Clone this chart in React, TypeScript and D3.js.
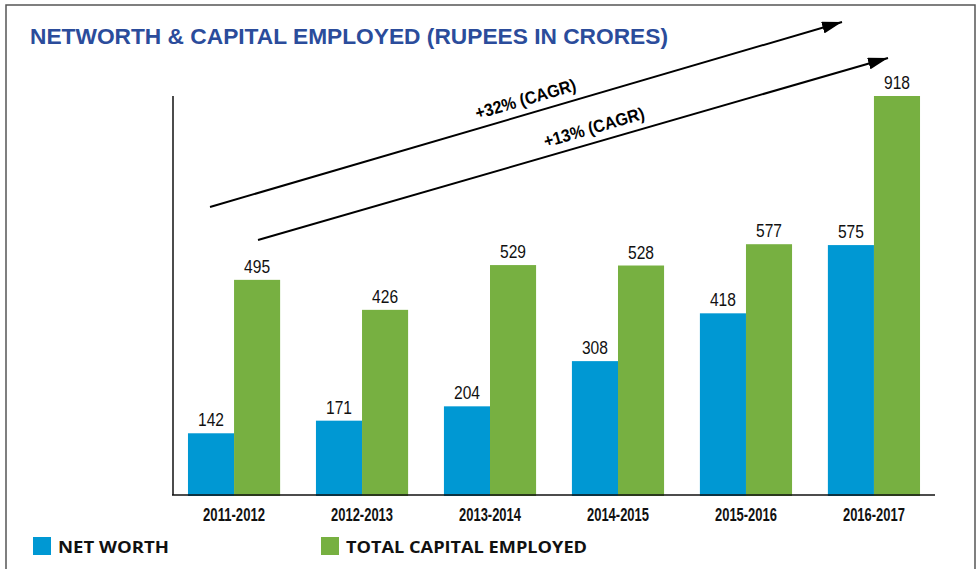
import React, { useRef, useEffect } from "react";
import * as d3 from "d3";

const years = ["2011-2012", "2012-2013", "2013-2014", "2014-2015", "2015-2016", "2016-2017"];
const netWorth = [142, 171, 204, 308, 418, 575];
const capitalEmployed = [495, 426, 529, 528, 577, 918];
const seriesNames = ["NET WORTH", "TOTAL CAPITAL EMPLOYED"];
const cagrLabels = ["+32% (CAGR)", "+13% (CAGR)"];

const W = 978;
const H = 569;
const BLUE = "#0098d3";
const GREEN = "#77b041";
const SANS = "'Liberation Sans', Arial, sans-serif";

const App = () => {
  const svgRef = useRef(null);

  useEffect(() => {
    const svg = d3.select(svgRef.current);
    svg.selectAll("*").remove();

    // frame
    svg.append("path")
      .attr("d", `M6,${H} V5 H975 V${H}`)
      .attr("fill", "none")
      .attr("stroke", "#555")
      .attr("stroke-width", 1.5);

    svg.append("text")
      .attr("x", 30)
      .attr("y", 44)
      .attr("fill", "#2b4c9b")
      .attr("font-family", SANS)
      .attr("font-weight", "bold")
      .attr("font-size", 22)
      .attr("textLength", 638)
      .attr("lengthAdjust", "spacingAndGlyphs")
      .text("NETWORTH & CAPITAL EMPLOYED (RUPEES IN CRORES)");

    const x0 = d3.scaleBand().domain(years).range([173, 935]).paddingInner(0.28).paddingOuter(0.117);
    const x1 = d3.scaleBand().domain(["nw", "ce"]).range([0, x0.bandwidth()]);
    const y = d3.scaleLinear().domain([0, 918]).range([495, 96]);

    const rows = years.map((yr, i) => ({ yr, vals: [
      { key: "nw", v: netWorth[i], c: BLUE },
      { key: "ce", v: capitalEmployed[i], c: GREEN },
    ] }));

    const g = svg.append("g");
    const grp = g.selectAll("g.grp").data(rows).enter().append("g")
      .attr("transform", d => `translate(${x0(d.yr)},0)`);

    grp.selectAll("rect").data(d => d.vals).enter().append("rect")
      .attr("x", d => x1(d.key))
      .attr("y", d => y(d.v))
      .attr("width", x1.bandwidth())
      .attr("height", d => y(0) - y(d.v) + 1)
      .attr("fill", d => d.c);

    // value labels, condensed like the original narrow face
    grp.selectAll("text").data(d => d.vals).enter().append("text")
      .attr("x", d => x1(d.key) + x1.bandwidth() / 2 - 13)
      .attr("y", d => y(d.v) - 7)
      .attr("font-family", SANS)
      .attr("font-size", 18)
      .attr("fill", "#111")
      .attr("textLength", 26)
      .attr("lengthAdjust", "spacingAndGlyphs")
      .text(d => d.v);

    // axes lines
    svg.append("line").attr("x1", 173).attr("x2", 173).attr("y1", y(918)).attr("y2", y(0))
      .attr("stroke", "#111").attr("stroke-width", 1.5);
    svg.append("line").attr("x1", 172).attr("x2", 935).attr("y1", y(0)).attr("y2", y(0))
      .attr("stroke", "#111").attr("stroke-width", 1.5);

    svg.append("g").selectAll("text").data(years).enter().append("text")
      .attr("x", d => x0(d) + x0.bandwidth() / 2 - 31)
      .attr("y", 521)
      .attr("font-family", SANS)
      .attr("font-weight", "bold")
      .attr("font-size", 17.5)
      .attr("fill", "#111")
      .attr("textLength", 62)
      .attr("lengthAdjust", "spacingAndGlyphs")
      .text(d => d);

    // CAGR arrows
    const defs = svg.append("defs");
    defs.append("marker")
      .attr("id", "head")
      .attr("viewBox", "0 0 20 12")
      .attr("refX", 20).attr("refY", 6)
      .attr("markerWidth", 20).attr("markerHeight", 12)
      .attr("markerUnits", "userSpaceOnUse")
      .attr("orient", "auto")
      .append("path").attr("d", "M0,0 L20,6 L0,12 Z").attr("fill", "#000");

    const arrows = [
      { a: [210, 207], b: [842, 22], t: 0.506, label: cagrLabels[0] },
      { a: [258, 240], b: [888, 58], t: 0.54, label: cagrLabels[1] },
    ];
    arrows.forEach(ar => {
      svg.append("line")
        .attr("x1", ar.a[0]).attr("y1", ar.a[1])
        .attr("x2", ar.b[0]).attr("y2", ar.b[1])
        .attr("stroke", "#000").attr("stroke-width", 2)
        .attr("marker-end", "url(#head)");
      const px = ar.a[0] + ar.t * (ar.b[0] - ar.a[0]);
      const py = ar.a[1] + ar.t * (ar.b[1] - ar.a[1]);
      const ang = Math.atan2(ar.b[1] - ar.a[1], ar.b[0] - ar.a[0]) * 180 / Math.PI;
      svg.append("text")
        .attr("transform", `translate(${px},${py}) rotate(${ang})`)
        .attr("x", -52)
        .attr("y", -9)
        .attr("font-family", SANS)
        .attr("font-weight", "bold")
        .attr("font-size", 17.5)
        .attr("fill", "#000")
        .attr("textLength", 104)
        .attr("lengthAdjust", "spacingAndGlyphs")
        .text(ar.label);
    });

    // legend
    const legend = [
      { name: seriesNames[0], c: BLUE, x: 33, w: 111 },
      { name: seriesNames[1], c: GREEN, x: 321, w: 241 },
    ];
    legend.forEach(l => {
      svg.append("rect").attr("x", l.x).attr("y", 537).attr("width", 18).attr("height", 18).attr("fill", l.c);
      svg.append("text")
        .attr("x", l.x + 25)
        .attr("y", 553)
        .attr("font-family", "'Open Sans', 'DejaVu Sans', sans-serif")
        .attr("font-weight", "bold")
        .attr("font-size", 16)
        .attr("fill", "#111")
        .attr("textLength", l.w)
        .attr("lengthAdjust", "spacingAndGlyphs")
        .text(l.name);
    });
  }, []);

  return (
    <div style={{ position: "absolute", left: 0, top: 0 }}>
      <svg ref={svgRef} width={W} height={H} style={{ display: "block", background: "#fff" }}></svg>
    </div>
  );
};

export default App;
